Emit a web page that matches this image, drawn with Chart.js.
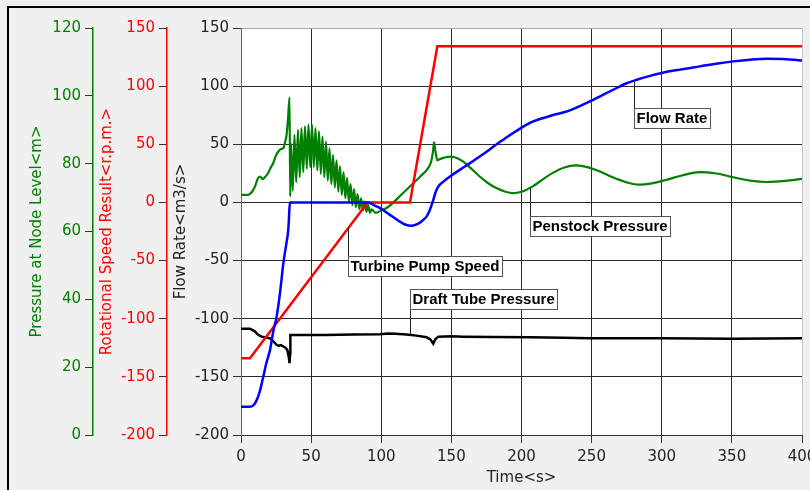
<!DOCTYPE html>
<html>
<head>
<meta charset="utf-8">
<script src="https://cdn.jsdelivr.net/npm/chart.js@4.4.1/dist/chart.umd.min.js"></script>
<style>
  html, body { margin: 0; padding: 0; background: #f0f0f0; }
  canvas { display: block; }
</style>
</head>
<body>
<canvas id="chart" width="810" height="490"></canvas>
<script>
// Flow rate <m3/s>
const flowT = [0, 6, 8.8, 11.2, 13.5, 15.9, 18, 20.7, 23, 25.4, 28, 30.2, 32, 33.7, 35, 50, 70, 90.8,
  95, 100, 106.2, 112, 117, 121.7, 126, 129.5, 132.4, 134.5, 137.1, 138.8, 140.7, 145, 149, 156, 163.3,
  172, 182.3, 190, 199, 206, 213.2, 222, 232.2, 240, 248.8, 258, 267.9, 275, 282.2, 291, 300, 313,
  327.3, 340, 351, 363, 374.8, 386, 398.6, 400];
const flowQ = [-175.6, -175.6, -174.5, -170, -162, -149.8, -138.5, -126.8, -111, -98.2, -76, -52.2, -38, -23.6, 0, 0, 0, 0,
  -2.5, -5.5, -10.7, -15.5, -19, -20.1, -18.5, -15.5, -12, -7, 2.2, 9, 13.7, 18.5, 22.3, 28, 33.8,
  41, 50, 56.5, 63.5, 68.5, 71.7, 75, 78.2, 82, 86.8, 92.5, 98.4, 102.5, 105.5, 108.6, 111.3, 114.2,
  117, 119.5, 121.3, 122.8, 123.6, 123.3, 122.1, 122];

// Turbine pump speed <r.p.m.>
const speedT = [0, 6.4, 90.3, 120.5, 140, 400];
const speedN = [-134, -134, 0, 0, 134.2, 134.2];

// Penstock pressure <m>
const penT = [0, 5, 8, 10, 12, 13.5, 15.5, 17, 19.5, 21, 23, 25, 26.6, 28.5, 30.2, 31.5, 32.5, 33.5, 34.6, 35.1,
  35.6, 36.9, 38.1, 39.4, 40.6, 41.9, 43.1, 44.4, 45.6, 46.9, 48.1, 49.4, 50.6, 51.9, 53.1, 54.4,
  55.6, 56.9, 58.1, 59.4, 60.6, 61.9, 63.1, 64.4, 65.6, 66.9, 68.1, 69.4, 70.6, 71.9, 73.1, 74.4,
  75.6, 76.9, 78.1, 79.4, 80.6, 81.9, 83.1, 84.4, 85.6, 86.9, 88.1, 89.4, 90.6, 91.9, 93.1,
  96, 100, 104, 108, 113, 118, 123, 128, 132.5, 135.5, 137, 137.6, 138.5, 140, 141.5, 145, 149, 153,
  158.5, 164, 170, 176, 182, 188, 194, 200, 208, 215, 222, 230, 239, 247, 256, 265, 275, 284, 293,
  303, 315, 327, 339, 351, 363, 375, 388, 400];
const penH = [70.8, 70.8, 71.8, 73.3, 75.6, 76.2, 75.5, 76, 77.3, 78.7, 80.2, 82.5, 83.6, 84.3, 84.6, 86.5, 88.5, 93, 99.5, 70.3,
  86, 72, 88.5, 74.5, 90, 76, 90.5, 77.5, 91, 78.5, 91.5, 79, 91.5, 79, 90.5, 78,
  89.5, 77, 88, 76, 86.5, 75, 84.5, 74, 82.5, 73, 81, 71.8, 79.2, 70.8, 77.5, 69.8,
  75.8, 68.8, 74, 67.8, 72.5, 67.2, 71, 66.6, 69.8, 66.2, 68.8, 65.8, 67.8, 65.5, 66.5,
  65.5, 66.2, 67, 68.3, 70.3, 72.3, 74.3, 76.3, 78.2, 80.5, 84, 86.3, 84, 81, 81.3, 81.8, 82.1, 81.8,
  80.6, 78.6, 76.3, 74.3, 72.8, 71.8, 71.3, 71.7, 73.3, 75.3, 77.2, 78.8, 79.5, 79, 77.7, 76, 74.5, 73.8, 74.2,
  75.2, 76.6, 77.5, 77.1, 76, 75, 74.6, 74.9, 75.5];

// Draft tube pressure <m>
const draftT = [0, 6.4, 8, 10, 12, 14.7, 17, 20.7, 23, 25.4, 27, 28.5, 30.2, 31.5, 33, 34.1, 34.6, 35, 35.2,
  40, 60, 80, 99, 105, 110, 118, 125, 132.4, 135, 137.1, 138.5, 140.7, 150, 158.5, 180, 206, 230,
  248.8, 300, 350, 400];
const draftH = [31.3, 31.3, 31, 30.5, 29.6, 29, 28.8, 28.5, 27.6, 26.6, 26.3, 26.5, 26.1, 25.8, 25.1, 23, 21.2, 24, 29.5,
  29.5, 29.5, 29.6, 29.7, 29.9, 29.85, 29.6, 29.3, 28.8, 28.2, 26.9, 28.2, 29, 29.1, 29, 28.9, 28.8, 28.7,
  28.5, 28.5, 28.4, 28.5];

const xy = (xs, ys) => xs.map((x, i) => ({ x: x, y: ys[i] }));

function valueAt(xs, ys, t) {
  for (let i = 1; i < xs.length; i++) {
    if (t <= xs[i]) {
      const f = (t - xs[i - 1]) / (xs[i] - xs[i - 1]);
      return ys[i - 1] + f * (ys[i] - ys[i - 1]);
    }
  }
  return ys[ys.length - 1];
}

const GREEN = '#008000';
const RED = '#ff0000';
const TICK = '#333333';
const FONT = 'DejaVu Sans';

// grey page, white plot, dark frame on the top and left edges
const backdrop = {
  id: 'backdrop',
  beforeDraw(chart) {
    const { ctx, chartArea: a, width, height } = chart;
    ctx.save();
    ctx.fillStyle = '#f0f0f0';
    ctx.fillRect(0, 0, width, height);
    ctx.fillStyle = '#ffffff';
    ctx.fillRect(a.left, a.top, a.right - a.left, a.bottom - a.top);
    ctx.strokeStyle = '#000';
    ctx.lineWidth = 2;
    ctx.beginPath();
    ctx.moveTo(8, height);
    ctx.lineTo(8, 7);
    ctx.lineTo(width, 7);
    ctx.stroke();
    ctx.restore();
  },
};

// boxed series names with a leader line down/up to the curve
const callouts = {
  id: 'callouts',
  afterDatasetsDraw(chart, args, opts) {
    const { ctx } = chart;
    ctx.save();
    ctx.font = 'bold 15px "Liberation Sans", Arial, sans-serif';
    ctx.textBaseline = 'middle';
    opts.items.forEach((c) => {
      const ds = chart.data.datasets[c.dataset];
      const xs = ds.data.map((p) => p.x);
      const ys = ds.data.map((p) => p.y);
      const px = Math.round(chart.scales.x.getPixelForValue(c.t)) + 0.5;
      const py = chart.scales[ds.yAxisID].getPixelForValue(valueAt(xs, ys, c.t));
      const w = Math.round(ctx.measureText(c.text).width) + 5;
      const h = 20;
      const top = Math.round(py + c.dy) + 0.5;

      ctx.strokeStyle = '#222';
      ctx.lineWidth = 1;
      ctx.beginPath();
      ctx.moveTo(px, py);
      ctx.lineTo(px, c.dy > 0 ? top : top + h);
      ctx.stroke();

      ctx.fillStyle = '#fff';
      ctx.fillRect(px, top, w, h);
      ctx.strokeStyle = '#555';
      ctx.strokeRect(px, top, w, h);
      ctx.fillStyle = '#000';
      ctx.fillText(c.text, px + 2, top + h / 2 + 0.5);
    });
    ctx.restore();
  },
};

function fixWidth(w) {
  return (scale) => {
    scale.width = w;
    scale.paddingTop = 0;
    scale.paddingBottom = 0;
  };
}

new Chart(document.getElementById('chart'), {
  type: 'line',
  data: {
    datasets: [
      {
        label: 'Flow Rate',
        data: xy(flowT, flowQ),
        yAxisID: 'y',
        borderColor: '#0000ff',
        borderWidth: 2.5,
        cubicInterpolationMode: 'monotone',
      },
      {
        label: 'Turbine Pump Speed',
        data: xy(speedT, speedN),
        yAxisID: 'yR',
        borderColor: RED,
        borderWidth: 2.5,
        tension: 0,
      },
      {
        label: 'Penstock Pressure',
        data: xy(penT, penH),
        yAxisID: 'yG',
        borderColor: GREEN,
        borderWidth: 2.2,
        cubicInterpolationMode: 'monotone',
      },
      {
        label: 'Draft Tube Pressure',
        data: xy(draftT, draftH),
        yAxisID: 'yG',
        borderColor: '#000000',
        borderWidth: 2.5,
        tension: 0,
      },
    ],
  },
  options: {
    responsive: false,
    animation: false,
    events: [],
    layout: { padding: { left: 23, top: 28, right: 8, bottom: 0 } },
    elements: { point: { radius: 0 } },
    plugins: {
      legend: { display: false },
      tooltip: { enabled: false },
      callouts: {
        items: [
          { text: 'Flow Rate', dataset: 0, t: 280, dy: 27 },
          { text: 'Penstock Pressure', dataset: 2, t: 206, dy: 28 },
          { text: 'Turbine Pump Speed', dataset: 1, t: 76.5, dy: 28 },
          { text: 'Draft Tube Pressure', dataset: 3, t: 120.5, dy: -46 },
        ],
      },
    },
    scales: {
      x: {
        type: 'linear',
        min: 0,
        max: 400,
        ticks: { stepSize: 50, color: '#222', font: { family: FONT, size: 15 }, padding: 5, maxRotation: 0 },
        grid: {
          color: (c) => (c.tick && c.tick.value === 400 ? '#c8c8c8' : c.tick && c.tick.value === 0 ? '#666' : '#2a2a2a'),
          tickColor: TICK,
          tickLength: 8,
        },
        border: { color: '#333' },
        title: { display: true, text: 'Time<s>', color: '#222', font: { family: FONT, size: 15 }, padding: { top: 0, bottom: 3 } },
        afterFit: (scale) => {
          scale.height = 55;
          scale.paddingLeft = 0;
          scale.paddingRight = 0;
        },
      },
      yG: {
        position: 'left',
        weight: 3,
        min: 0,
        max: 120,
        ticks: { stepSize: 20, color: GREEN, font: { family: FONT, size: 15 }, padding: 4 },
        grid: { drawOnChartArea: false, tickColor: TICK, tickLength: 8 },
        border: { color: GREEN, width: 1.5 },
        title: { display: true, text: 'Pressure at Node Level<m>', color: GREEN, font: { family: FONT, size: 15 }, padding: { top: 5, bottom: 0 } },
        afterFit: fixWidth(70),
      },
      yR: {
        position: 'left',
        weight: 2,
        min: -200,
        max: 150,
        ticks: { stepSize: 50, color: RED, font: { family: FONT, size: 15 }, padding: 4 },
        grid: { drawOnChartArea: false, tickColor: TICK, tickLength: 8 },
        border: { color: RED, width: 1.5 },
        title: { display: true, text: 'Rotational Speed Result<r.p.m.>', color: RED, font: { family: FONT, size: 15 }, padding: { top: 5, bottom: 0 } },
        afterFit: fixWidth(74),
      },
      y: {
        position: 'left',
        weight: 1,
        min: -200,
        max: 150,
        ticks: { stepSize: 50, color: '#222', font: { family: FONT, size: 15 }, padding: 4 },
        grid: {
          color: (c) => (c.tick && c.tick.value === 150 ? '#a8a8a8' : '#2a2a2a'),
          tickColor: TICK,
          tickLength: 8,
        },
        border: { color: '#666' },
        title: { display: true, text: 'Flow Rate<m3/s>', color: '#222', font: { family: FONT, size: 15 }, padding: { top: 5, bottom: 0 } },
        afterFit: fixWidth(74),
      },
    },
  },
  plugins: [backdrop, callouts],
});
</script>
</body>
</html>
